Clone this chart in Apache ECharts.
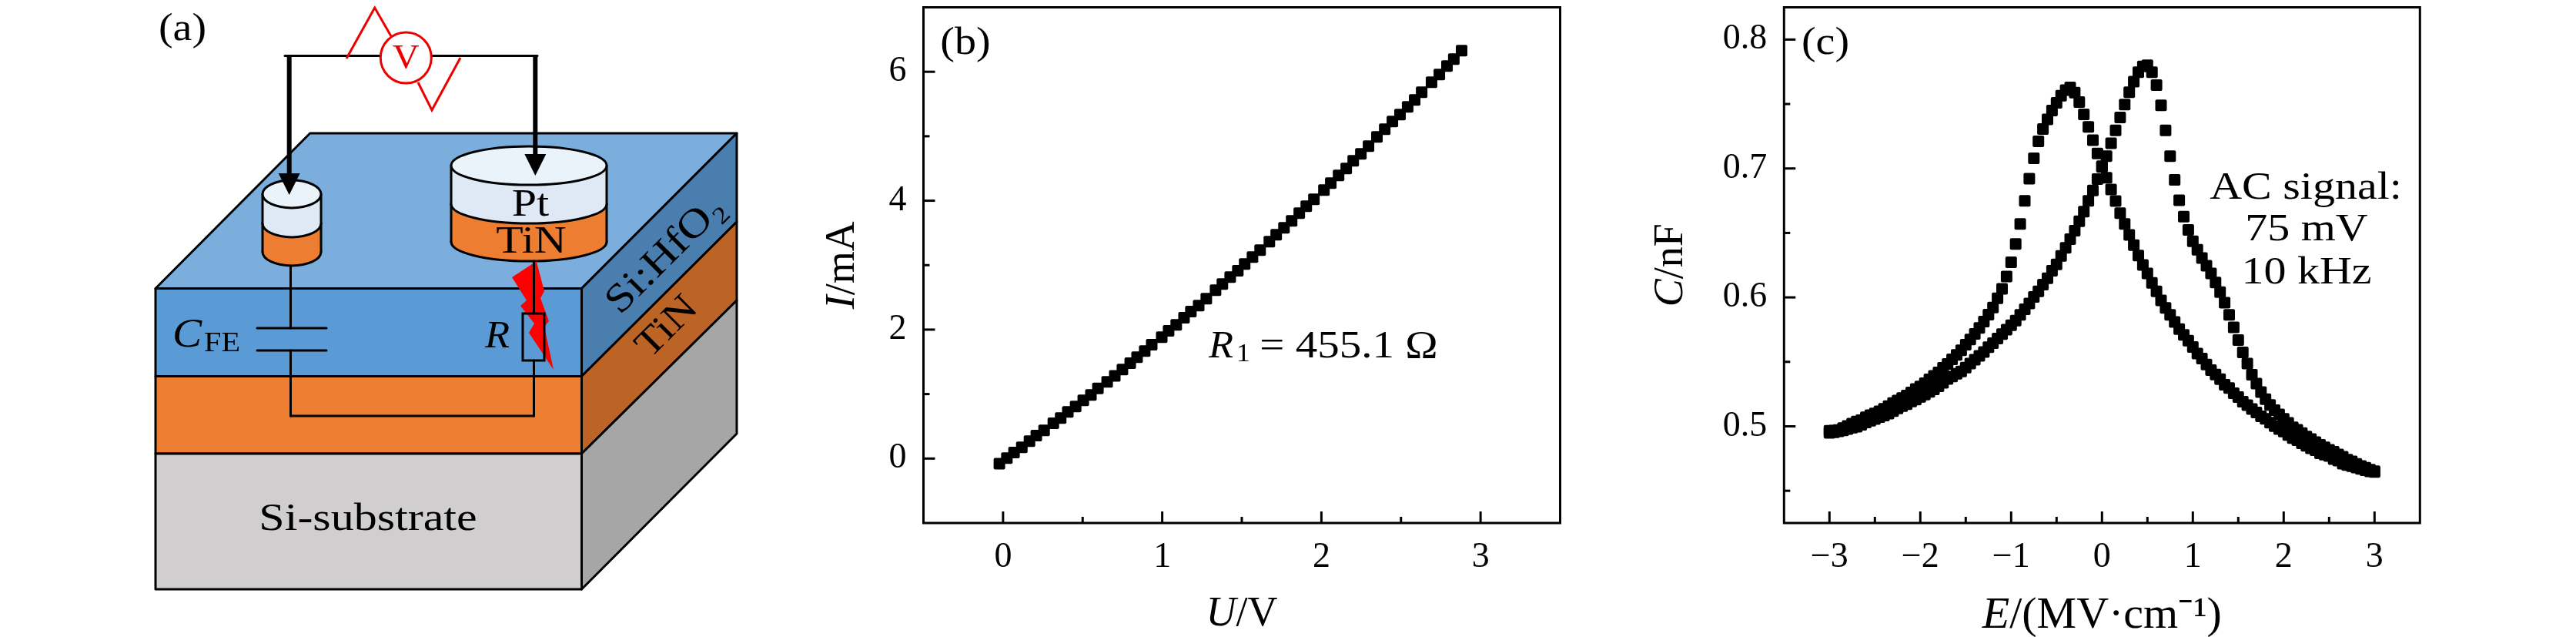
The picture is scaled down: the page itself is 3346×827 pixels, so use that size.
<!DOCTYPE html>
<html><head><meta charset="utf-8">
<style>html,body{margin:0;padding:0;background:#fff}#c{width:3346px;height:827px}</style>
<script src="https://cdn.jsdelivr.net/npm/echarts@6/dist/echarts.min.js"></script>
</head><body><div id="c"></div>
<script>
const FONT='"Liberation Serif"';
// Panel (b)
const bU=[-0.023,0.024,0.069,0.118,0.166,0.209,0.258,0.316,0.362,0.407,0.456,0.504,0.552,0.596,0.654,0.702,0.750,0.799,0.842,0.890,0.934,0.997,1.040,1.088,1.137,1.180,1.229,1.277,1.335,1.378,1.427,1.475,1.518,1.567,1.615,1.673,1.716,1.765,1.813,1.861,1.905,1.953,2.016,2.059,2.108,2.156,2.200,2.248,2.296,2.349,2.398,2.446,2.494,2.542,2.586,2.630,2.692,2.741,2.789,2.832,2.881];
const bI=[-0.08,0.008,0.092,0.175,0.271,0.355,0.438,0.548,0.629,0.725,0.808,0.904,0.988,1.087,1.191,1.283,1.382,1.478,1.573,1.669,1.765,1.884,1.98,2.075,2.183,2.279,2.374,2.481,2.613,2.708,2.816,2.912,3.019,3.126,3.234,3.365,3.473,3.58,3.688,3.807,3.915,4.023,4.166,4.274,4.393,4.5,4.62,4.727,4.847,4.99,5.109,5.229,5.337,5.456,5.564,5.683,5.839,5.958,6.089,6.197,6.329];
const bXMajor=[0,1,2,3], bXMinor=[0.5,1.5,2.5], bYMajor=[0,2,4,6], bYMinor=[1,3,5];
// Panel (c)
const cE=[-3,-2.95,-2.9,-2.85,-2.8,-2.75,-2.7,-2.65,-2.6,-2.55,-2.5,-2.45,-2.4,-2.35,-2.3,-2.25,-2.2,-2.15,-2.1,-2.05,-2,-1.95,-1.9,-1.85,-1.8,-1.75,-1.7,-1.65,-1.6,-1.55,-1.5,-1.45,-1.4,-1.35,-1.3,-1.25,-1.2,-1.15,-1.1,-1.05,-1,-0.95,-0.9,-0.85,-0.8,-0.75,-0.7,-0.65,-0.6,-0.55,-0.5,-0.45,-0.4,-0.35,-0.3,-0.25,-0.2,-0.15,-0.1,-0.05,0,0.05,0.1,0.15,0.2,0.25,0.3,0.35,0.4,0.45,0.5,0.55,0.6,0.65,0.7,0.75,0.8,0.85,0.9,0.95,1,1.05,1.1,1.15,1.2,1.25,1.3,1.35,1.4,1.45,1.5,1.55,1.6,1.65,1.7,1.75,1.8,1.85,1.9,1.95,2,2.05,2.1,2.15,2.2,2.25,2.3,2.35,2.4,2.45,2.5,2.55,2.6,2.65,2.7,2.75,2.8,2.85,2.9,2.95,3];
const cForward=[.4949,.4953,.4961,.4969,.4979,.4989,.4997,.5012,.5030,.5043,.5057,.5072,.5084,.5098,.5118,.5138,.5156,.5172,.5192,.5208,.5228,.5247,.5267,.5287,.5311,.5337,.5367,.5387,.5407,.5426,.5456,.5486,.5516,.5546,.5576,.5613,.5645,.5681,.5715,.5749,.5784,.5820,.5864,.5908,.5953,.6003,.6047,.6099,.6148,.6206,.6256,.6321,.6385,.6451,.6518,.6590,.6665,.6749,.6829,.6918,.7012,.7095,.7195,.7296,.7395,.7495,.7592,.7674,.7747,.7791,.7801,.7747,.7646,.7489,.7296,.7095,.6912,.6753,.6626,.6524,.6435,.6369,.6305,.6246,.6186,.6116,.6041,.5958,.5864,.5768,.5669,.5573,.5486,.5400,.5331,.5265,.5211,.5166,.5126,.5092,.5058,.5026,.4993,.4973,.4947,.4921,.4901,.4877,.4857,.4837,.4818,.4802,.4782,.4764,.4742,.4728,.4708,.4692,.4678,.4664,.4652];
const cReverse=[.4965,.4967,.4971,.4987,.5003,.5021,.5037,.5047,.5070,.5086,.5100,.5116,.5136,.5156,.5180,.5200,.5220,.5239,.5263,.5289,.5309,.5335,.5365,.5391,.5418,.5454,.5484,.5520,.5554,.5590,.5633,.5673,.5717,.5763,.5812,.5866,.5922,.5993,.6067,.6162,.6272,.6415,.6570,.6749,.6920,.7079,.7210,.7306,.7380,.7449,.7509,.7564,.7608,.7628,.7588,.7515,.7419,.7322,.7220,.7117,.7017,.6928,.6837,.6747,.6654,.6570,.6485,.6405,.6325,.6252,.6186,.6113,.6047,.5977,.5918,.5865,.5810,.5754,.5709,.5665,.5615,.5565,.5525,.5480,.5436,.5402,.5366,.5323,.5297,.5257,.5227,.5191,.5164,.5134,.5108,.5078,.5058,.5028,.5002,.4979,.4959,.4933,.4909,.4893,.4869,.4849,.4829,.4814,.4790,.4780,.4770,.4746,.4734,.4710,.4700,.4690,.4680,.4670,.4660,.4650,.4646];
const cXMajor=[-3,-2,-1,0,1,2,3], cXMinor=[-2.5,-1.5,-0.5,0.5,1.5,2.5], cYMajor=[0.5,0.6,0.7,0.8], cYMinor=[0.45,0.55,0.65,0.75];

const zip=(a,b)=>a.map((v,i)=>[v,b[i]]);
const MARK='path://M2,0H13Q15,0 15,2V13Q15,15 13,15H2Q0,15 0,13V2Q0,0 2,0Z';
const fmt=d=>v=>(d?(+v).toFixed(d):String(v)).replace('-','\u2212');
const richOf=s=>({it:{fontFamily:FONT,fontStyle:'italic',fontSize:s,color:'#000'},rm:{fontFamily:FONT,fontSize:s,color:'#000'}});

function xAxis(gi,min,max,major,name,d,gap,size){return {type:'value',gridIndex:gi,min,max,position:'bottom',
  splitLine:{show:false},axisLine:{show:false,onZero:false},axisTick:{show:false},
  axisLabel:{show:true,customValues:major,formatter:fmt(d),fontFamily:FONT,fontSize:46,color:'#000',margin:22},
  name,nameLocation:'middle',nameGap:gap,nameTextStyle:{rich:richOf(size)}};}
function yAxis(gi,min,max,major,name,d,gap,size){return {type:'value',gridIndex:gi,min,max,position:'left',
  splitLine:{show:false},axisLine:{show:false,onZero:false},axisTick:{show:false},
  axisLabel:{show:true,customValues:major,formatter:fmt(d),fontFamily:FONT,fontSize:46,color:'#000',margin:22},
  name,nameLocation:'middle',nameGap:gap,nameRotate:90,nameTextStyle:{rich:richOf(size)}};}

const itemStyle={color:'#000',opacity:1};
function xTicks(ai,vals,edge,len){return {type:'scatter',xAxisIndex:ai,yAxisIndex:ai,clip:false,silent:true,symbol:'rect',z:9,
  symbolSize:[3,len],symbolOffset:[0,-len/2],itemStyle,data:vals.map(v=>[v,edge])};}
function yTicks(ai,vals,edge,len){return {type:'scatter',xAxisIndex:ai,yAxisIndex:ai,clip:false,silent:true,symbol:'rect',z:9,
  symbolSize:[len,3],symbolOffset:[len/2,0],itemStyle,data:vals.map(v=>[edge,v])};}

// text helper
const SX=1.16;
function T(x,y,text,o={}){return {type:'text',x,y,rotation:o.rot||0,scaleX:o.sx||SX,silent:true,
 style:{text,fontFamily:FONT,fontSize:o.size||50,fontStyle:o.italic?'italic':'normal',fill:o.color||'#000',align:o.align||'center',verticalAlign:'middle'}};}
const K={stroke:'#000',lineWidth:3,lineJoin:'round'};
function P(points,fill,stroke){return {type:'polygon',shape:{points},style:stroke===false?{fill}:{fill,...K}};}
function L(x1,y1,x2,y2,w,c){return {type:'line',shape:{x1,y1,x2,y2},style:{stroke:c||'#000',lineWidth:w||3,lineCap:'round'}};}
function E(cx,cy,rx,ry,fill){return {type:'ellipse',shape:{cx,cy,rx,ry},style:{fill,...K}};}
function R(x,y,width,height,fill){return {type:'rect',shape:{x,y,width,height},style:{fill}};}
function cyl(cx,rx,ry,top,mid,bot){return [
 E(cx,bot,rx,ry,'#ED7D31'),R(cx-rx,mid,2*rx,bot-mid,'#ED7D31'),L(cx-rx,mid,cx-rx,bot),L(cx+rx,mid,cx+rx,bot),
 E(cx,mid,rx,ry,'#DEE9F5'),R(cx-rx,top,2*rx,mid-top,'#DEE9F5'),L(cx-rx,top,cx-rx,mid),L(cx+rx,top,cx+rx,mid),
 E(cx,top,rx,ry,'#EAF2FA')];}
function arrow(x,y0,yb,yt){return [{type:'rect',shape:{x:x-3,y:y0,width:6,height:yb-y0},style:{fill:'#000'}},
 {type:'polygon',shape:{points:[[x-14,yb],[x+14,yb],[x,yt]]},style:{fill:'#000'}}];}

const schematic=[
 P([[202,374.5],[402.7,173],[957,173],[755.5,374.5]],'#7BAEDC'),
 P([[755.5,374.5],[957,173],[957,288],[755.5,488.5]],'#4A7EAE'),
 P([[755.5,488.5],[957,288],[957,390],[755.5,589]],'#BC6426'),
 P([[755.5,589],[957,390],[957,563],[755.5,765]],'#A6A6A6'),
 P([[202,374.5],[755.5,374.5],[755.5,488.5],[202,488.5]],'#5B9BD5'),
 P([[202,488.5],[755.5,488.5],[755.5,589],[202,589]],'#ED7D31'),
 P([[202,589],[755.5,589],[755.5,765],[202,765]],'#D0CECE'),
 ...cyl(379,38,18,252,290,327),
 ...cyl(687,101,25,215,265,314),
 // lightning
 {type:'polygon',shape:{points:[[694,341],[665,360],[684,390],[676,397],[694,420],[687,432],[719,480],[707,424],[713,417],[702,387],[707,378],[697,340]]},style:{fill:'#F00'}},
 // circuit
 L(377.5,345,377.5,426),L(334,426,424,426),L(334,455,424,455),L(377.5,455,377.5,540),
 L(377.5,540,693.5,540),L(693.5,468,693.5,540),L(693.5,339,693.5,407),
 {type:'rect',shape:{x:679,y:407,width:28,height:61},style:{fill:'none',stroke:'#000',lineWidth:3}},
 // probes
 L(370,72.5,698,72.5,3),
 ...arrow(375.7,72,225,253),...arrow(695.3,72,200,228),
 // voltmeter
 {type:'polyline',shape:{points:[[450,76],[486.7,10],[508,47]]},style:{fill:'none',stroke:'#E00',lineWidth:3}},
 {type:'polyline',shape:{points:[[543,107],[561,143],[598,75]]},style:{fill:'none',stroke:'#E00',lineWidth:3}},
 {type:'circle',shape:{cx:527.3,cy:75,r:33},style:{fill:'#fff',stroke:'#E00',lineWidth:3}},
 T(527.3,76,'V',{color:'#E00',size:44,sx:1.1}),
 // labels
 T(237,39,'(a)',{sx:1.12}),
 T(689,267,'Pt'),T(690,315,'TiN'),
 T(243,436,'C',{italic:true,size:52,sx:1.1}),T(288.5,447,'FE',{size:36,sx:1.12}),
 T(646,438,'R',{italic:true,sx:1.05}),
 T(478,675,'Si-substrate',{sx:1.2}),
 T(865,331,'Si:HfO\u2082',{rot:Math.PI/4,size:52}),
 T(867,425,'TiN',{rot:Math.PI/4}),
 // panel notes
 T(1586,451,'R',{italic:true,size:50,sx:1.05}),T(1615,460,'1',{size:34,sx:1.05}),
 T(1752,451,'= 455.1 \u03A9',{size:50,sx:1.14}),
 T(1254,57,'(b)',{sx:1.12}),
 T(2371,57,'(c)',{sx:1.12}),
 T(2995,245,'AC signal:'),T(2996,299,'75 mV'),T(2996,355,'10 kHz')
];

const chart=echarts.init(document.getElementById('c'),null,{renderer:'canvas',devicePixelRatio:1});
chart.setOption({
 animation:false,backgroundColor:'#fff',
 grid:[
  {left:1199.5,top:9.5,width:827,height:669.5,outerBoundsMode:'none',containLabel:false,show:true,borderWidth:3,borderColor:'#000',backgroundColor:'transparent'},
  {left:2317.3,top:9.5,width:826,height:669.5,outerBoundsMode:'none',containLabel:false,show:true,borderWidth:3,borderColor:'#000',backgroundColor:'transparent'}
 ],
 xAxis:[xAxis(0,-0.5,3.5,bXMajor,'{it|U}{rm|/V}',0,92,54),
        xAxis(1,-3.5,3.5,cXMajor,'{it|E}{rm|/(MV\u00B7cm\u207B\u00B9)}',0,92,58)],
 yAxis:[yAxis(0,-1,7,bYMajor,'{it|I}{rm|/mA}',0,78,54),
        yAxis(1,0.425,0.825,cYMajor,'{it|C}{rm|/nF}',1,119,54)],
 series:[
  xTicks(0,bXMajor,-1,15),xTicks(0,bXMinor,-1,8),yTicks(0,bYMajor,-0.5,15),yTicks(0,bYMinor,-0.5,8),
  xTicks(1,cXMajor,0.425,15),xTicks(1,cXMinor,0.425,8),yTicks(1,cYMajor,-3.5,15),yTicks(1,cYMinor,-3.5,8),
  {type:'scatter',xAxisIndex:0,yAxisIndex:0,data:zip(bU,bI),symbol:MARK,symbolSize:15,itemStyle,silent:true},
  {type:'scatter',xAxisIndex:1,yAxisIndex:1,data:zip(cE,cForward),symbol:MARK,symbolSize:15,itemStyle,silent:true},
  {type:'scatter',xAxisIndex:1,yAxisIndex:1,data:zip(cE,cReverse),symbol:MARK,symbolSize:15,itemStyle,silent:true}
 ],
 graphic:{elements:schematic}
});
</script></body></html>
